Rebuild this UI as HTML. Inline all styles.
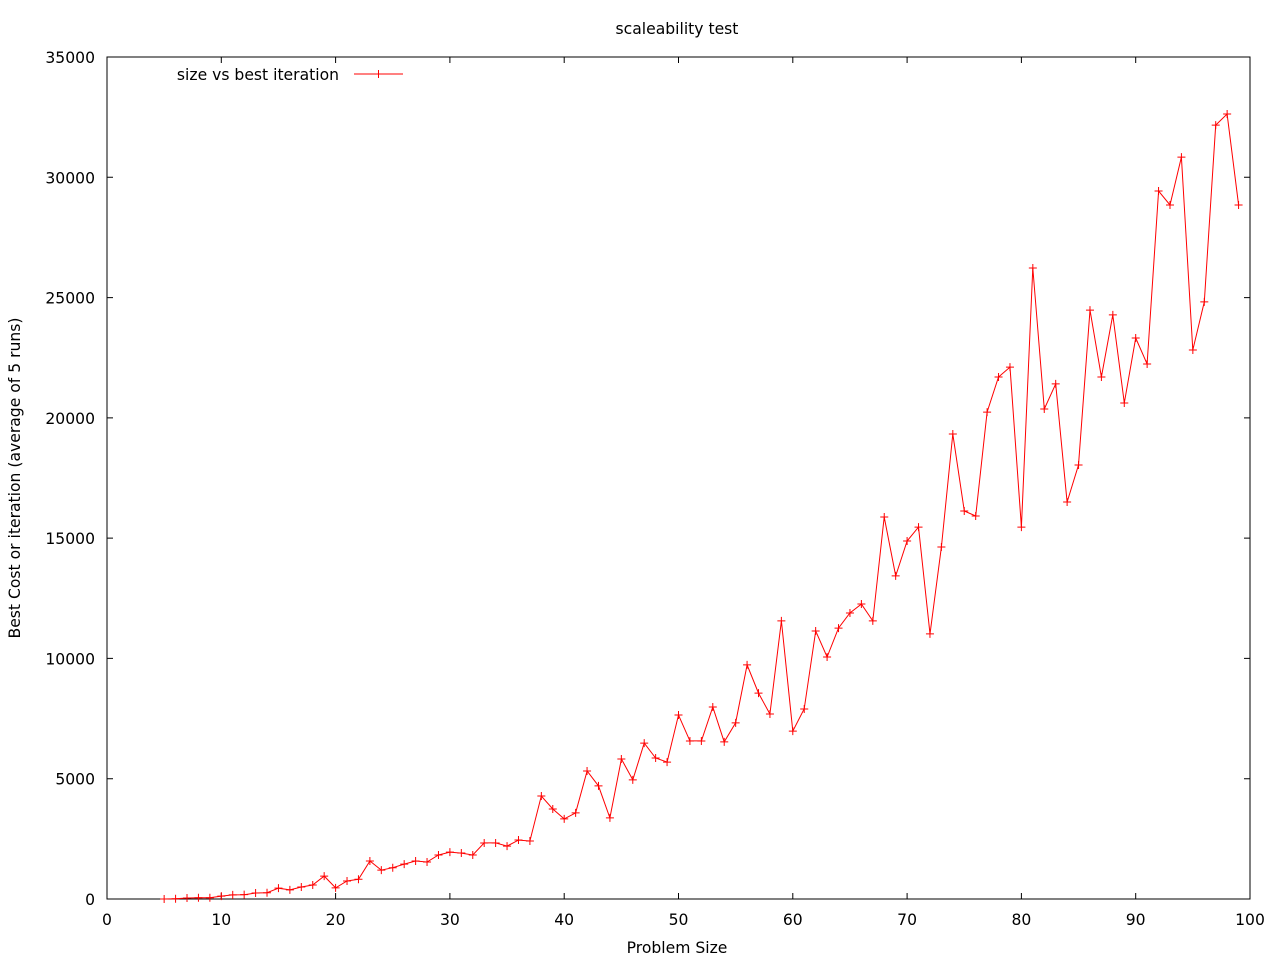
<!DOCTYPE html>
<html><head><meta charset="utf-8"><style>
body{margin:0;background:#fff;}
svg{display:block;font-family:"DejaVu Sans","Liberation Sans",sans-serif;}
</style></head><body>
<svg id="chart" width="1280" height="960" xmlns="http://www.w3.org/2000/svg">
<rect width="1280" height="960" fill="#fff"/>
<text x="677" y="34" font-size="15.6" text-anchor="middle">scaleability test</text>
<text x="677" y="953" font-size="15.6" text-anchor="middle">Problem Size</text>
<text transform="translate(20,478) rotate(-90)" font-size="15.6" text-anchor="middle">Best Cost or iteration (average of 5 runs)</text>
<rect x="107" y="57" width="1143" height="842" fill="none" stroke="#000" stroke-width="1"/>
<g id="axes"></g>
<g>
<text x="339" y="80" font-size="15.6" text-anchor="end">size vs best iteration</text>
<line x1="354" y1="74" x2="403" y2="74" stroke="#f00" stroke-width="1"/>
<path d="M378.5 70v8" stroke="#f00" stroke-width="1"/>
</g>
<g id="series"></g>
</svg>
<script>
const sizes = [];
for (let i = 5; i <= 99; i++) sizes.push(i);
const bestIter = [0,10,40,50,50,120,170,180,250,260,450,380,500,580,950,460,750,820,1580,1200,1300,1450,1580,1540,1830,1950,1910,1830,2330,2330,2200,2450,2410,4280,3740,3330,3580,5320,4700,3370,5820,4950,6480,5860,5690,7650,6570,6570,7980,6530,7320,9730,8560,7690,11560,6980,7900,11140,10060,11260,11890,12260,11560,15880,13430,14880,15460,11020,14630,19330,16130,15920,20240,21700,22110,15460,26230,20370,21410,16500,18040,24480,21700,24280,20620,23320,22240,29430,28850,30840,22820,24820,32170,32630,28850];
const xTicks = [0,10,20,30,40,50,60,70,80,90,100];
const yTicks = [0,5000,10000,15000,20000,25000,30000,35000];

const NS = "http://www.w3.org/2000/svg";
const X = v => 107 + v * 11.43;
const Y = v => 899 - v * 842 / 35000;
const axes = document.getElementById('axes');
const series = document.getElementById('series');
function mk(tag, attrs, parent) {
  const e = document.createElementNS(NS, tag);
  for (const k in attrs) e.setAttribute(k, attrs[k]);
  parent.appendChild(e);
  return e;
}
xTicks.forEach(t => {
  const x = X(t);
  const l = mk('path', {d:`M${x} 899v-6M${x} 57v6`, stroke:'#000', fill:'none'}, axes);
  
  
  const tx = mk('text', {x:x, y:925, 'font-size':15.6, 'text-anchor':'middle'}, axes);
  tx.textContent = t;
  
  
});
yTicks.forEach(t => {
  const y = Y(t);
  const l = mk('path', {d:`M107 ${y}h6M1250 ${y}h-6`, stroke:'#000', fill:'none'}, axes);
  
  
  const tx = mk('text', {x:95, y:y+6, 'font-size':15.6, 'text-anchor':'end'}, axes);
  tx.textContent = t;
  
  
});
const pts = sizes.map((s, i) => X(s).toFixed(1) + ',' + Y(bestIter[i]).toFixed(1)).join(' ');
const line = mk('polyline', {points:pts, fill:'none', stroke:'#f00', 'stroke-width':1}, series);


sizes.forEach((s, i) => {
  const x = X(s), y = Y(bestIter[i]);
  const m = mk('path', {d:`M${x-4} ${y}h8M${x} ${y-4}v8`, stroke:'#f00', 'stroke-width':1}, series);
  
  
});
</script>
</body></html>
